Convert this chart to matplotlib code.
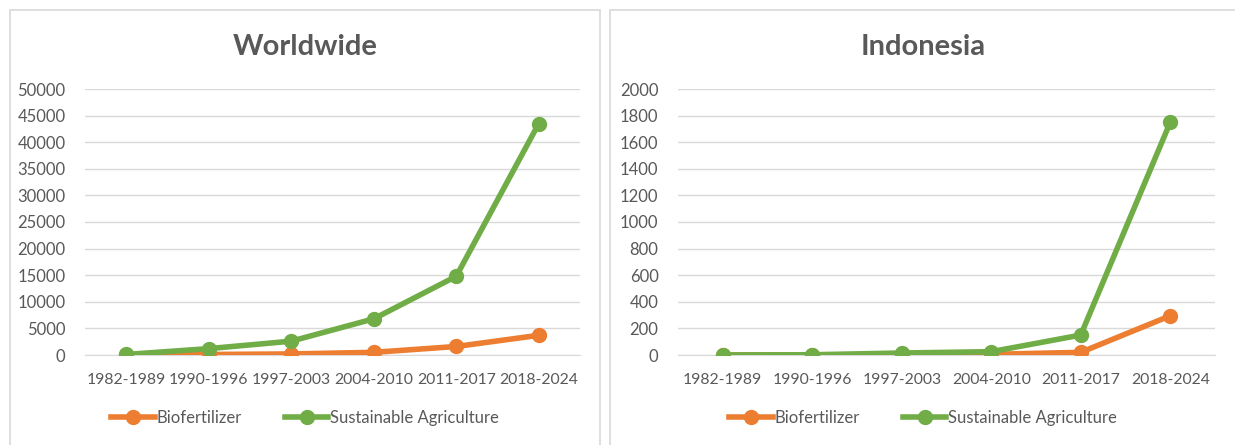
import matplotlib
matplotlib.use('Agg')
import matplotlib.pyplot as plt
from matplotlib.patches import Rectangle
from matplotlib.lines import Line2D

periods = ['1982-1989', '1990-1996', '1997-2003', '2004-2010', '2011-2017', '2018-2024']

world_bio = [0, 100, 200, 500, 1600, 3700]
world_sust = [100, 1200, 2600, 6800, 14800, 43500]

indo_bio = [0, 0, 2, 5, 20, 295]
indo_sust = [0, 2, 15, 25, 150, 1750]

ORANGE = '#ED7D31'
GREEN = '#70AD47'
TXT = '#595959'

plt.rcParams['font.family'] = ['Lato', 'DejaVu Sans']

W, H = 1235, 445
fig = plt.figure(figsize=(W / 100, H / 100), dpi=100)


def px_axes(x0, y0, x1, y1):
    return fig.add_axes([x0 / W, 1 - y1 / H, (x1 - x0) / W, (y1 - y0) / H])


def draw_panel(ax, bio, sust, ymax, step, title, cx):
    x = list(range(len(periods)))
    ax.plot(x, bio, color=ORANGE, lw=4, marker='o', ms=10, solid_capstyle='round', zorder=3)
    ax.plot(x, sust, color=GREEN, lw=4, marker='o', ms=10, solid_capstyle='round', zorder=4)
    ax.set_xlim(-0.5, len(periods) - 0.5)
    ax.set_ylim(0, ymax)
    ax.set_yticks(range(0, ymax + 1, step))
    ax.set_xticks(x)
    ax.set_xticklabels(periods)
    ax.grid(axis='y', color='#D9D9D9', lw=1)
    ax.set_axisbelow(True)
    for s in ['top', 'right', 'left']:
        ax.spines[s].set_visible(False)
    ax.spines['bottom'].set_color('#D9D9D9')
    ax.tick_params(length=0, colors=TXT, labelsize=11.3, pad=13)
    ax.tick_params(axis='y', labelsize=12, pad=14)
    fig.text(cx / W, 1 - 47 / H, title, ha='center', va='center',
             fontsize=21, fontweight='bold', color=TXT)
    handles = [Line2D([], [], color=ORANGE, lw=4, marker='o', ms=10),
               Line2D([], [], color=GREEN, lw=4, marker='o', ms=10)]
    fig.legend(handles, ['Biofertilizer', 'Sustainable Agriculture'],
               loc='center', bbox_to_anchor=(cx / W, 1 - 418 / H), ncol=2,
               frameon=False, fontsize=12, labelcolor=TXT, handlelength=2.6,
               handletextpad=0.1, columnspacing=2.6)


# panel borders
fig.add_artist(Rectangle((10 / W, -0.05), 590 / W, 1 - 10 / H + 0.05,
                         transform=fig.transFigure, fill=False, ec='#D9D9D9', lw=1.2))
fig.add_artist(Rectangle((610 / W, -0.05), 640 / W, 1 - 10 / H + 0.05,
                         transform=fig.transFigure, fill=False, ec='#D9D9D9', lw=1.2))

ax1 = px_axes(85, 89, 580, 355)
draw_panel(ax1, world_bio, world_sust, 50000, 5000, 'Worldwide', 305)

ax2 = px_axes(678, 89, 1215, 355)
draw_panel(ax2, indo_bio, indo_sust, 2000, 200, 'Indonesia', 923)

plt.savefig('out.png', dpi=100)
plt.close()
